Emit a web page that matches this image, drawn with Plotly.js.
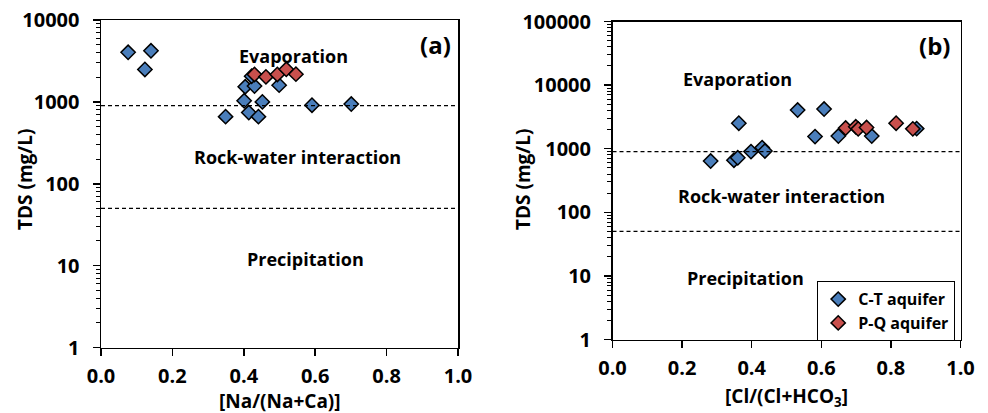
<!DOCTYPE html>
<html>
<head>
<meta charset="utf-8">
<script src="https://cdn.plot.ly/plotly-3.0.1.min.js"></script>
<style>
  html, body { margin: 0; padding: 0; background: #fff; }
  #chart { width: 988px; height: 413px; }
</style>
</head>
<body>
<div id="chart"></div>
<script>
// Panel (a): TDS vs Na/(Na+Ca)
const naRatioCT = [0.076, 0.140, 0.123, 0.404, 0.430, 0.499, 0.401, 0.452, 0.591, 0.701, 0.349, 0.414, 0.441, 0.422];
const tdsA_CT   = [4030, 4210, 2490, 1530, 1560, 1600, 1030, 1000, 910, 940, 660, 740, 660, 2060];
const naRatioPQ = [0.430, 0.462, 0.494, 0.519, 0.546];
const tdsA_PQ   = [2160, 2020, 2160, 2500, 2180];

// Panel (b): TDS vs Cl/(Cl+HCO3)
const clRatioCT = [0.363, 0.532, 0.608, 0.582, 0.649, 0.745, 0.874, 0.282, 0.349, 0.360, 0.398, 0.430, 0.438];
const tdsB_CT   = [2520, 4050, 4200, 1550, 1580, 1580, 2070, 640, 660, 720, 900, 1040, 920];
const clRatioPQ = [0.670, 0.699, 0.706, 0.730, 0.815, 0.863];
const tdsB_PQ   = [2110, 2210, 2050, 2150, 2520, 2050];

// Boundaries between the Gibbs domains (mg/L)
const boundaries = [900, 50];

const seriesNames = ['C-T aquifer', 'P-Q aquifer'];
const xTickVals = [0, 0.2, 0.4, 0.6, 0.8, 1.0];
const xTickText = ['0.0', '0.2', '0.4', '0.6', '0.8', '1.0'];
const yTickValsA = [1, 10, 100, 1000, 10000];
const yTickTextA = ['1', '10', '100', '1000', '10000'];
const yTickValsB = [1, 10, 100, 1000, 10000, 100000];
const yTickTextB = ['1', '10', '100', '1000', '10000', '100000'];

const BLUE = '#4a7ebb';
const RED = '#c9504d';
const FONT = 'Open Sans, Arial, sans-serif';

function minorLogTicks(decades) {
  const v = [];
  for (let d = 0; d < decades; d++) {
    for (let k = 2; k <= 9; k++) v.push(k * Math.pow(10, d));
  }
  return v;
}

function marker(color) {
  return { symbol: 'diamond', size: 11, color: color, line: { color: '#000', width: 1.5 } };
}

const traces = [
  { x: naRatioCT, y: tdsA_CT, xaxis: 'x', yaxis: 'y', mode: 'markers', type: 'scatter',
    name: seriesNames[0], marker: marker(BLUE), showlegend: false },
  { x: naRatioPQ, y: tdsA_PQ, xaxis: 'x', yaxis: 'y', mode: 'markers', type: 'scatter',
    name: seriesNames[1], marker: marker(RED), showlegend: false },
  { x: clRatioCT, y: tdsB_CT, xaxis: 'x2', yaxis: 'y2', mode: 'markers', type: 'scatter',
    name: seriesNames[0], marker: marker(BLUE) },
  { x: clRatioPQ, y: tdsB_PQ, xaxis: 'x2', yaxis: 'y2', mode: 'markers', type: 'scatter',
    name: seriesNames[1], marker: marker(RED) }
];

const W = 988, H = 413;
const tickFont = { family: FONT, size: 20, color: '#000', weight: 'bold' };

function xAxis(domain, anchor) {
  return {
    domain: domain, anchor: anchor, range: [0, 1],
    tickvals: xTickVals, ticktext: xTickText,
    ticks: 'outside', ticklen: 7, tickwidth: 1.5, tickcolor: '#000',
    ticklabelstandoff: 3,
    showline: true, linecolor: '#000', linewidth: 1.5, mirror: true,
    showgrid: false, zeroline: false,
    tickfont: tickFont
  };
}

function yAxis(domain, decades, vals, text, anchor) {
  return {
    domain: domain, anchor: anchor, type: 'log', range: [0, decades],
    tickvals: vals, ticktext: text,
    ticks: 'outside', ticklen: 7, tickwidth: 1.5, tickcolor: '#000',
    ticklabelstandoff: 9,
    minor: { tickvals: minorLogTicks(decades), ticks: 'outside', ticklen: 4, tickwidth: 1, tickcolor: '#000' },
    showline: true, linecolor: '#000', linewidth: 1.5, mirror: true,
    showgrid: false, zeroline: false,
    tickfont: tickFont
  };
}

function hLine(xref, yref, yv) {
  return { type: 'line', xref: xref, yref: yref, x0: 0, x1: 1, y0: yv, y1: yv,
           line: { color: '#000', width: 1.3, dash: '4px,3px' } };
}

function label(xref, yref, x, yLog, text, size) {
  return { xref: xref, yref: yref, x: x, y: yLog, text: '<b>' + text + '</b>', showarrow: false,
           font: { family: FONT, size: size || 18, color: '#000' } };
}

// Axis titles placed in pixel terms on the paper
function axisTitle(px, py, text, angle) {
  return { xref: 'paper', yref: 'paper', x: px / W, y: 1 - py / H, text: '<b>' + text + '</b>',
           showarrow: false, textangle: angle || 0, xanchor: 'center', yanchor: 'middle',
           font: { family: FONT, size: 19, color: '#000' } };
}

const layout = {
  width: W, height: H,
  margin: { l: 0, r: 0, t: 0, b: 0 },
  paper_bgcolor: '#fff', plot_bgcolor: '#fff',
  font: { family: FONT, color: '#000' },
  xaxis: xAxis([101 / W, 458 / W], 'y'),
  yaxis: yAxis([1 - 347.5 / H, 1 - 20 / H], 4, yTickValsA, yTickTextA, 'x'),
  xaxis2: xAxis([612.5 / W, 960.5 / W], 'y2'),
  yaxis2: yAxis([1 - 339.5 / H, 1 - 21.5 / H], 5, yTickValsB, yTickTextB, 'x2'),
  shapes: [
    hLine('x', 'y', boundaries[0]), hLine('x', 'y', boundaries[1]),
    hLine('x2', 'y2', boundaries[0]), hLine('x2', 'y2', boundaries[1])
  ],
  annotations: [
    label('x', 'y', 0.938, 3.706, '(a)', 24),
    label('x', 'y', 0.538, 3.56, 'Evaporation'),
    label('x', 'y', 0.55, 2.323, 'Rock-water interaction'),
    label('x', 'y', 0.572, 1.075, 'Precipitation'),
    label('x2', 'y2', 0.924, 4.63, '(b)', 24),
    label('x2', 'y2', 0.358, 4.093, 'Evaporation'),
    label('x2', 'y2', 0.485, 2.263, 'Rock-water interaction'),
    label('x2', 'y2', 0.382, 0.97, 'Precipitation'),
    axisTitle(25, 180, 'TDS (mg/L)', -90),
    axisTitle(280, 401, '[Na/(Na+Ca)]'),
    axisTitle(523, 180, 'TDS (mg/L)', -90),
    axisTitle(786, 397, '[Cl/(Cl+HCO<sub>3</sub>]')
  ],
  legend: {
    x: 817 / W, y: 1 - 281 / H, xanchor: 'left', yanchor: 'top',
    bgcolor: '#fff', bordercolor: '#000', borderwidth: 1.2,
    font: { family: FONT, size: 16, color: '#000', weight: 'bold' },
    itemwidth: 30, tracegroupgap: 0
  },
  showlegend: true
};

Plotly.newPlot('chart', traces, layout, { displayModeBar: false, staticPlot: true });
</script>
</body>
</html>
